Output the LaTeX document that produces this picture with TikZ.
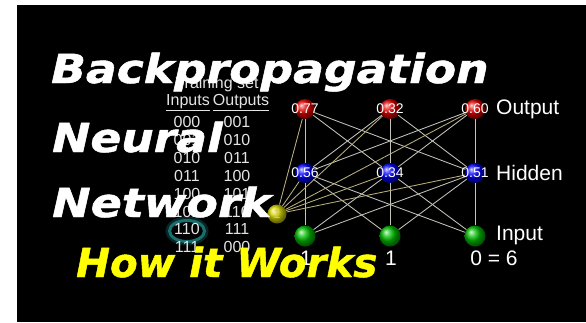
\documentclass[tikz,border=0pt]{standalone}
\usepackage{fontspec}
\setmainfont{Liberation Sans}
\newfontfamily\titlefont{DejaVu Sans Bold Oblique}[FakeBold=1.2]
\usetikzlibrary{backgrounds,shapes.geometric}
\definecolor{edgegrey}{RGB}{195,195,188}
\definecolor{biasline}{RGB}{185,175,125}
\definecolor{tabtext}{RGB}{228,228,228}
\definecolor{ringteal}{RGB}{25,110,110}
\definecolor{titleyellow}{RGB}{255,255,0}
\definecolor{biaslabel}{RGB}{215,195,110}
\begin{document}
\begin{tikzpicture}[x=1pt,y=-1pt,
  neuron/.style={circle,minimum size=20pt,inner sep=0pt,shading=ball},
  outn/.style={neuron,ball color=red!90!black},
  hidn/.style={neuron,ball color=blue},
  inn/.style={neuron,minimum size=21pt,ball color=green!75!black},
  biasn/.style={neuron,minimum size=19pt,ball color=yellow!85!black},
  val/.style={text=white,font=\fontsize{14}{14}\selectfont},
  link/.style={draw=edgegrey,line width=0.85pt},
  blink/.style={draw=biasline,line width=0.85pt},
  tab/.style={text=tabtext,font=\fontsize{16}{16}\selectfont,inner sep=0pt},
  side/.style={text=white,font=\fontsize{21}{21}\selectfont,inner sep=0pt},
  title/.style={anchor=base west,inner sep=0pt,font=\titlefont\fontsize{40}{40}\selectfont}
]
\useasboundingbox (0,0) rectangle (586,322);
\begin{scope}[on background layer]
\fill[white] (0,0) rectangle (586,322);
\fill[black] (17,5) rectangle (586,322);
\end{scope}

% neurons
\node[outn,label={[val]center:0.77}] (o1) at (305,109) {};
\node[outn,label={[val]center:0.32}] (o2) at (390,109) {};
\node[outn,label={[val]center:0.60}] (o3) at (475,109) {};
\node[hidn,label={[val]center:0.56}] (h1) at (305,173) {};
\node[hidn,label={[val]center:0.34}] (h2) at (390,173) {};
\node[hidn,label={[val]center:0.51}] (h3) at (475,173) {};
\node[inn] (i1) at (305,236) {};
\node[inn] (i2) at (390,236) {};
\node[inn] (i3) at (475,236) {};
\node[biasn,label={[text=biaslabel,font=\fontsize{13}{13}\selectfont]center:1}] (b) at (277,214) {};

\begin{scope}[on background layer]
\foreach \s in {i1,i2,i3}{\foreach \t in {h1,h2,h3}{\draw[link] (\s) -- (\t);}}
\foreach \s in {h1,h2,h3}{\foreach \t in {o1,o2,o3}{\draw[link] (\s) -- (\t);}}
\foreach \t in {o1,o2,o3,h1,h2,h3}{\draw[blink] (b) -- (\t);}
\end{scope}

% side labels
\node[side,anchor=west] (lo) at (496,109) {Output};
\node[side,anchor=west] (lh) at (496,173) {Hidden};
\node[side,anchor=west] (li) at (496,235) {Input};
\node[side] (n1) at (306,258) {1};
\node[side] (n2) at (391,258) {1};
\node[side] (n3) at (494,258) {0 = 6};

% training set
\node[draw=ringteal,line width=5pt,opacity=0.35,ellipse,minimum width=38pt,minimum height=24pt] (ringglow) at (187,231) {};
\node[draw=ringteal,line width=3pt,ellipse,minimum width=35pt,minimum height=21pt] (ring) at (187,231) {};
\node[tab] (ts) at (217,84) {Training set};
\node[tab] (hin) at (188,103) {\underline{Inputs}};
\node[tab] (hout) at (241,103) {\underline{Outputs}};
\foreach \a/\b [count=\k from 0] in {000/001,001/010,010/011,011/100,100/101,101/110,110/111,111/000}{
  \node[tab] (in\k) at (187,122+17.9*\k) {\a};
  \node[tab] (out\k) at (237,122+17.9*\k) {\b};
}

% titles
\node[title,text=white] (t1) at (51,83) {\scalebox{1.14}[1]{Backpropagation}};
\node[title,text=white] (t2) at (52,152) {\scalebox{1.14}[1]{Neural}};
\node[title,text=white] (t3) at (52,217) {\scalebox{1.15}[1]{Network}};
\node[title,text=titleyellow] (t4) at (76,277) {\scalebox{1.01}[1]{How it Works}};
\end{tikzpicture}
\end{document}
